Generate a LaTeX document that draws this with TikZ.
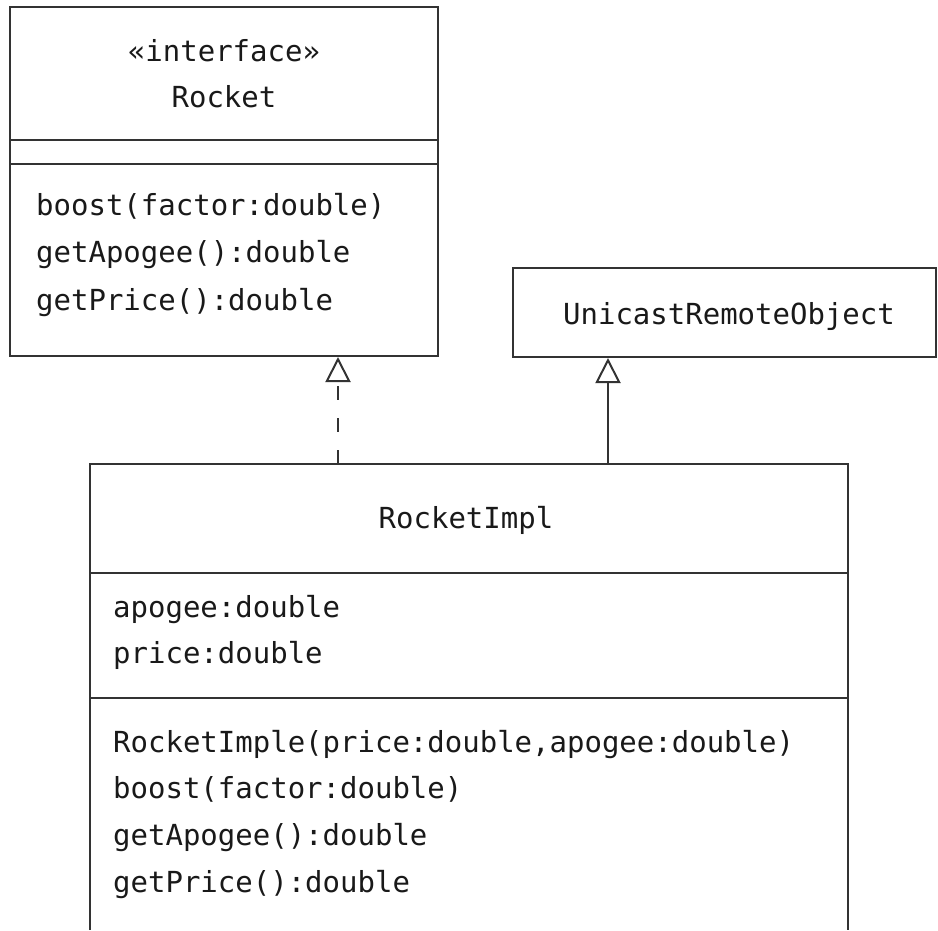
\documentclass[tikz,border=0pt]{standalone}
\usepackage{fontspec}
\newfontfamily\umlfont{DejaVu Sans Mono}
\usetikzlibrary{arrows.meta}
\tikzset{
  umlline/.style={line width=2pt, draw=black!80},
  boxfr/.style={umlline, rectangle, inner sep=0pt, fill=none},
  txt/.style={inner sep=0pt, font=\umlfont\fontsize{29}{34}\selectfont, text=black!90},
  ltxt/.style={txt, anchor=base west},
  ctxt/.style={txt, anchor=base},
  realize/.style={umlline, dash pattern=on 14pt off 18pt, -{Triangle[open, length=25pt, width=25pt, line width=2pt]}},
  generalize/.style={umlline, -{Triangle[open, length=25pt, width=25pt, line width=2pt]}}
}
\begin{document}
\begin{tikzpicture}[x=1pt, y=-1pt]
\useasboundingbox (0,0) rectangle (938,930);
% Rocket interface box
\node[boxfr, minimum width=428pt, minimum height=349pt] (rocket) at (224,181.5) {};
\draw[umlline] (rocket.west |- 0,140) -- (rocket.east |- 0,140);
\draw[umlline] (rocket.west |- 0,164) -- (rocket.east |- 0,164);
\node[ctxt] (stereo) at (224,61) {«interface»};
\node[ctxt] (rname) at (224,107) {Rocket};
\node[ltxt] (r1) at (36,215) {boost(factor:double)};
\node[ltxt] (r2) at (36,262) {getApogee():double};
\node[ltxt] (r3) at (36,310) {getPrice():double};
% UnicastRemoteObject box
\node[boxfr, minimum width=423pt, minimum height=89pt] (uro) at (724.5,312.5) {};
\node[ctxt] (uroname) at (729,324) {UnicastRemoteObject};
% RocketImpl box (open at the bottom)
\node[inner sep=0pt, minimum width=758pt, minimum height=466pt] (impl) at (469,697) {};
\draw[umlline] (impl.south west) -- (impl.north west) -- (impl.north east) -- (impl.south east);
\draw[umlline] (impl.west |- 0,573) -- (impl.east |- 0,573);
\draw[umlline] (impl.west |- 0,698) -- (impl.east |- 0,698);
\node[ctxt] (iname) at (466,528) {RocketImpl};
\node[ltxt] (i1) at (113,617) {apogee:double};
\node[ltxt] (i2) at (113,663) {price:double};
\node[ltxt] (i3) at (113,752) {RocketImple(price:double,apogee:double)};
\node[ltxt] (i4) at (113,798) {boost(factor:double)};
\node[ltxt] (i5) at (113,845) {getApogee():double};
\node[ltxt] (i6) at (113,892) {getPrice():double};
% connectors
\coordinate (ax1) at (338,0);
\coordinate (ax2) at (608,0);
\draw[realize] (impl.north -| ax1) -- (rocket.south -| ax1);
\draw[generalize] (impl.north -| ax2) -- (uro.south -| ax2);
\end{tikzpicture}
\end{document}
